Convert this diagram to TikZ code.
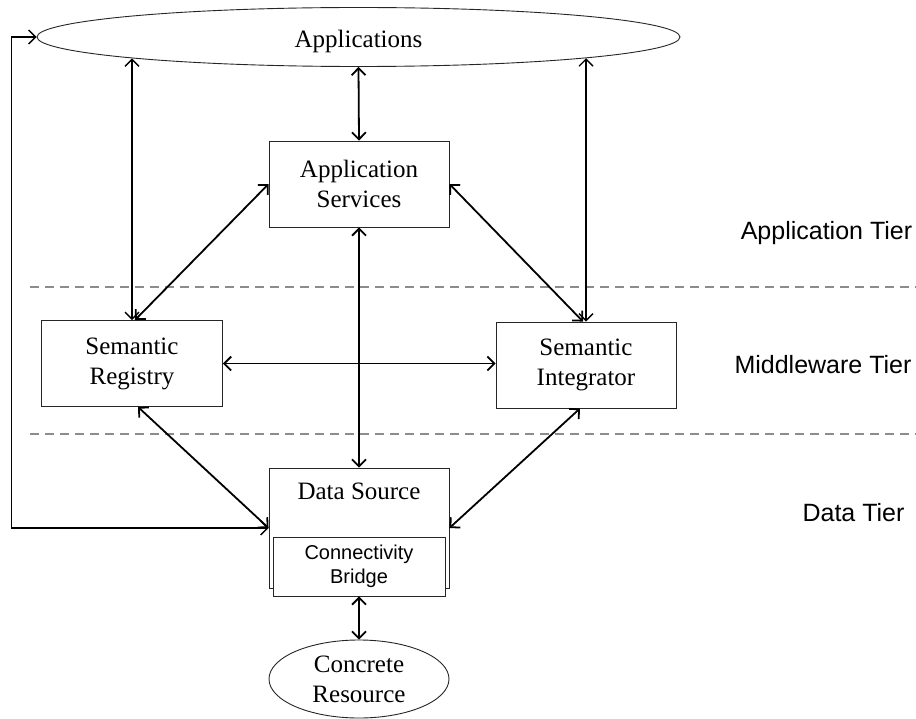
\documentclass[tikz,border=0pt]{standalone}
\usepackage{fontspec}
\setmainfont{Liberation Serif}
\newfontfamily\tiersans{Liberation Sans}
\usetikzlibrary{shapes.geometric,arrows.meta}
\begin{document}
\begin{tikzpicture}[x=1bp,y=-1bp,
  boxfont/.style={font=\fontsize{25bp}{30bp}\selectfont},
  serifbox/.style={boxfont, draw=black!85, line width=0.9bp, rectangle, inner sep=0pt, align=center, fill=white},
  ovalnode/.style={boxfont, draw=black!85, line width=0.9bp, ellipse, inner sep=0pt, align=center, fill=white},
  tierlabel/.style={font=\tiersans\fontsize{25bp}{30bp}\selectfont, inner sep=0pt},
  tierline/.style={draw=black!45, line width=1.6bp, dash pattern=on 9bp off 6bp},
  tip/.tip={Straight Barb[length=7bp,width=14bp]},
  arr/.style={tip-tip, line width=1.8bp},
  thinarr/.style={tip-tip, line width=1.4bp},
  fb/.style={tip-tip, line width=1.3bp}
]
\useasboundingbox (0,0) rectangle (916,719);

% dashed tier lines
\draw[tierline] (30,287) -- (916,287);
\draw[tierline] (30,434) -- (916,434);

% nodes
\node[ovalnode, minimum width=643bp, minimum height=59bp] (apps) at (358.5,37) {};
\node[boxfont, inner sep=0pt] (appstext) at (358.5,41) {Applications};
\node[serifbox, minimum width=180bp, minimum height=86bp] (as) at (359,184) {Application\\Services};
\node[serifbox, minimum width=181bp, minimum height=86bp] (sr) at (132,363.5) {Semantic\\Registry};
\node[serifbox, minimum width=180bp, minimum height=86bp] (si) at (586,365) {Semantic\\Integrator};
\node[serifbox, minimum width=180bp, minimum height=120bp] (ds) at (359,528) {};
\node[boxfont, inner sep=0pt] (dstext) at (359,491) {Data Source};
\node[serifbox, font=\tiersans\fontsize{20bp}{24bp}\selectfont, minimum width=172bp, minimum height=59bp] (cb) at (359,566.5) {Connectivity\\Bridge};
\node[ovalnode, minimum width=180bp, minimum height=78bp] (cr) at (359,679) {Concrete\\Resource};

% tier labels
\node[tierlabel] (t1) at (826.5,233) {Application Tier};
\node[tierlabel] (t2) at (823,365) {Middleware Tier};
\node[tierlabel] (t3) at (853.5,513) {Data Tier};

% connectors
\draw[arr] (apps.south) -- (as.north);
\draw[thinarr] ([yshift=8.6bp]sr.north |- apps.south) -- (sr.north);
\draw[thinarr] ([yshift=8.7bp]si.north |- apps.south) -- (si.north);
\draw[arr] (as.west) -- ([xshift=3bp]sr.north);
\draw[arr] (as.east) -- ([xshift=-3bp]si.north);
\draw[arr] (as.south) -- (ds.north);
\draw[arr] (sr.east) -- (sr.east -| si.west);
\draw[arr] ([xshift=6bp]sr.south) -- (ds.west);
\draw[arr] ([xshift=-6bp]si.south) -- (ds.east);
\draw[arr] (cb.south) -- (cr.north);
\draw[fb] (apps.west) -- ++(-25,0) |- (ds.west);
\end{tikzpicture}
\end{document}
